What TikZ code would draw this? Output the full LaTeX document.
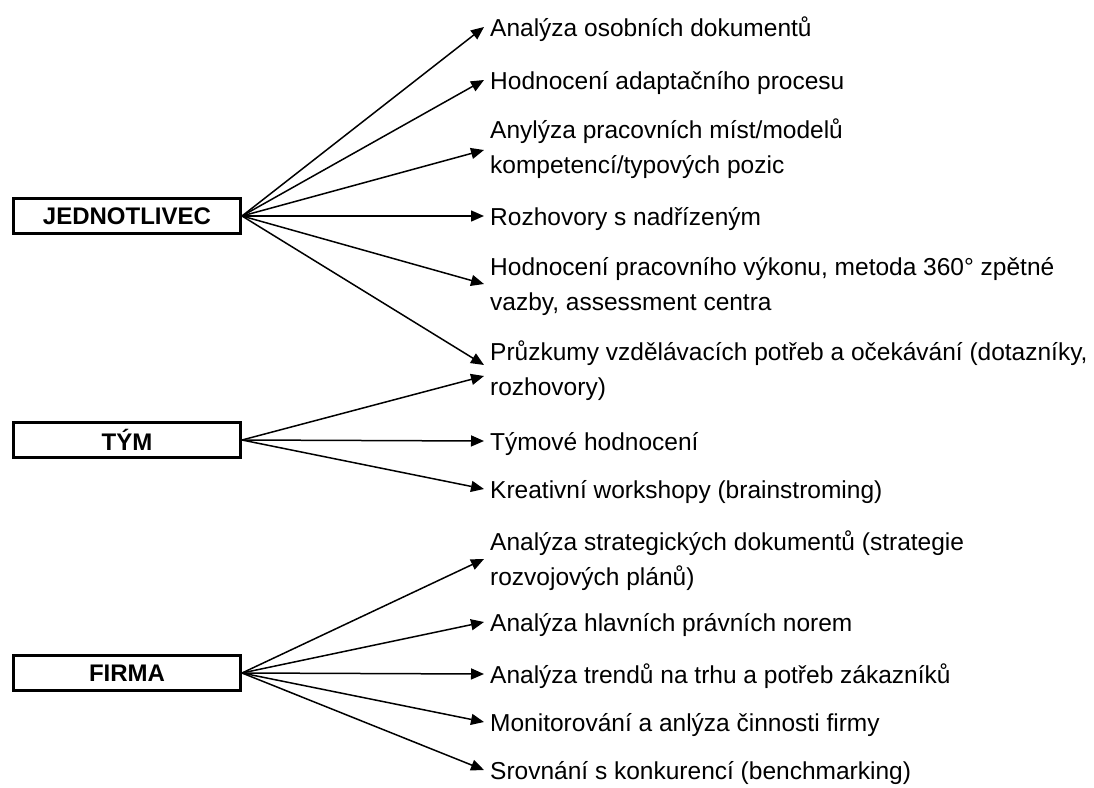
\documentclass[tikz,border=0pt]{standalone}
\usepackage{fontspec}
\setmainfont{Liberation Sans}
\usetikzlibrary{arrows.meta,calc}
\begin{document}
\begin{tikzpicture}[x=1pt,y=-1pt,
  cat/.style={draw,line width=3pt,minimum width=227pt,minimum height=35pt,inner sep=0pt,font=\fontsize{24}{28}\selectfont\bfseries},
  item/.style={anchor=base west,inner sep=0pt,align=left,font=\fontsize{24.5}{35}\selectfont},
  arr/.style={line width=1.5pt,-{Triangle[length=13pt,width=11pt]}}]
\useasboundingbox (0,0) rectangle (1094,787);
\fill[white] (0,0) rectangle (1094,787);
\node[cat] (jed) at (127,216) {JEDNOTLIVEC};
\node[cat] (tym) at (127,440) {TÝM};
\node[cat] (fir) at (127,673) {FIRMA};

% single-line items: base = baseline; two-line items: base = baseline of last line
\node[item] (a1) at (490,36) {Analýza osobních dokumentů};
\node[item] (a2) at (490,89) {Hodnocení adaptačního procesu};
\node[item] (a3) at (490,173) {Anylýza pracovních míst/modelů\\kompetencí/typových pozic};
\node[item] (a4) at (490,225) {Rozhovory s nadřízeným};
\node[item] (a5) at (490,310) {Hodnocení pracovního výkonu, metoda 360° zpětné\\vazby, assessment centra};
\node[item] (b1) at (490,395) {Průzkumy vzdělávacích potřeb a očekávání (dotazníky,\\rozhovory)};
\node[item] (b2) at (490,450) {Týmové hodnocení};
\node[item] (b3) at (490,498) {Kreativní workshopy (brainstroming)};
\node[item] (c1) at (490,585) {Analýza strategických dokumentů (strategie\\rozvojových plánů)};
\node[item] (c2) at (490,631) {Analýza hlavních právních norem};
\node[item] (c3) at (490,683) {Analýza trendů na trhu a potřeb zákazníků};
\node[item] (c4) at (490,731) {Monitorování a anlýza činnosti firmy};
\node[item] (c5) at (490,779) {Srovnání s konkurencí (benchmarking)};

\draw[arr] (jed.east) -- ($(a1.base west)+(-6,-9)$);
\draw[arr] (jed.east) -- ($(a2.base west)+(-6,-9)$);
\draw[arr] (jed.east) -- ($(a3.base west)+(-6,-23)$);
\draw[arr] (jed.east) -- ($(a4.base west)+(-6,-9)$);
\draw[arr] (jed.east) -- ($(a5.base west)+(-6,-26)$);
\draw[arr] (jed.east) -- ($(b1.base west)+(-6,-30)$);
\draw[arr] (tym.east) -- ($(b1.base west)+(-6,-19)$);
\draw[arr] (tym.east) -- ($(b2.base west)+(-6,-9)$);
\draw[arr] (tym.east) -- ($(b3.base west)+(-6,-9)$);
\draw[arr] (fir.east) -- ($(c1.base west)+(-6,-26)$);
\draw[arr] (fir.east) -- ($(c2.base west)+(-6,-9)$);
\draw[arr] (fir.east) -- ($(c3.base west)+(-6,-9)$);
\draw[arr] (fir.east) -- ($(c4.base west)+(-6,-9)$);
\draw[arr] (fir.east) -- ($(c5.base west)+(-6,-9)$);
\end{tikzpicture}
\end{document}
